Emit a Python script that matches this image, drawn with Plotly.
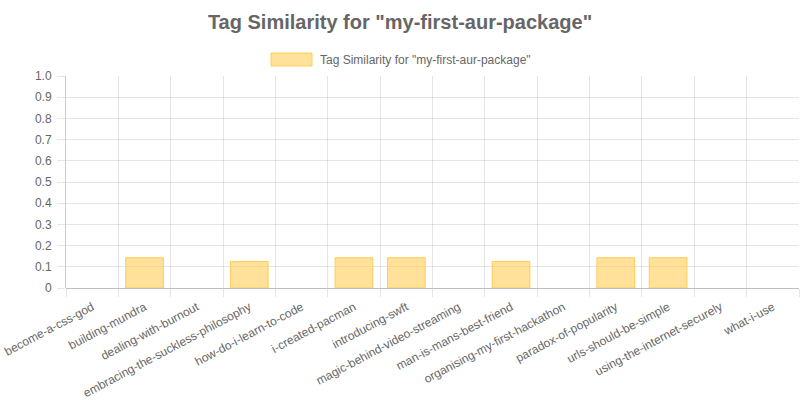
import plotly.graph_objects as go

categories = [
    "become-a-css-god", "building-mundra", "dealing-with-burnout",
    "embracing-the-suckless-philosophy", "how-do-i-learn-to-code",
    "i-created-pacman", "introducing-swft", "magic-behind-video-streaming",
    "man-is-mans-best-friend", "organising-my-first-hackathon",
    "paradox-of-popularity", "urls-should-be-simple",
    "using-the-internet-securely", "what-i-use",
]
similarity = [0, 0.1429, 0, 0.125, 0, 0.1429, 0.1429, 0, 0.125, 0, 0.1429, 0.1429, 0, 0]
y_ticks = [0, 0.1, 0.2, 0.3, 0.4, 0.5, 0.6, 0.7, 0.8, 0.9, 1.0]
y_tick_text = ["0", "0.1", "0.2", "0.3", "0.4", "0.5", "0.6", "0.7", "0.8", "0.9", "1.0"]
series_name = 'Tag Similarity for "my-first-aur-package"'

FONT = "Liberation Sans, Arial, Helvetica, sans-serif"
GREY = "#666666"

border_widths = [1 if v > 0 else 0 for v in similarity]

fig = go.Figure()
fig.add_trace(go.Bar(
    x=categories, y=similarity, name=series_name,
    marker=dict(color="rgba(255,205,86,0.6)",
                line=dict(color="rgb(255,205,86)", width=border_widths)),
    width=0.72, showlegend=False,
))

fig.update_layout(
    width=800, height=400,
    margin=dict(l=66, r=1, t=76, b=112, autoexpand=False),
    paper_bgcolor="white", plot_bgcolor="white",
    font=dict(family=FONT, size=12, color=GREY),
    title=dict(text="<b>" + series_name + "</b>", x=0.5, xanchor="center",
               y=1 - 22 / 400, yanchor="middle",
               font=dict(family=FONT, size=20, color=GREY)),
    bargap=0.28,
    xaxis=dict(
        type="category", tickson="boundaries", showgrid=True,
        gridcolor="rgba(0,0,0,0.1)", gridwidth=1,
        ticks="outside", ticklen=8, tickcolor="rgba(0,0,0,0.1)",
        tickangle=-28, tickfont=dict(family=FONT, size=12, color=GREY),
        showline=False, range=[-0.5, len(categories) - 0.5],
        ticklabelstandoff=9, automargin=False,
    ),
    yaxis=dict(
        range=[0, 1], tickvals=y_ticks, ticktext=y_tick_text,
        showgrid=True, gridcolor="rgba(0,0,0,0.1)", gridwidth=1,
        ticks="outside", ticklen=8, tickcolor="rgba(0,0,0,0.1)",
        zeroline=True, zerolinecolor="rgba(0,0,0,0.25)", zerolinewidth=1,
        showline=True, linecolor="rgba(0,0,0,0.2)", linewidth=1,
        tickfont=dict(family=FONT, size=12, color=GREY),
        ticklabelstandoff=3, automargin=False,
    ),
    shapes=[dict(
        type="rect", xref="paper", yref="paper",
        x0=(271 - 66) / 733, x1=(312 - 66) / 733,
        y0=(288 - 66) / 212, y1=(288 - 53) / 212,
        fillcolor="rgba(255,205,86,0.6)",
        line=dict(color="rgb(255,205,86)", width=1),
    )],
    annotations=[dict(
        text=series_name, xref="paper", yref="paper",
        x=(318 - 66) / 733, y=(288 - 60) / 212,
        xanchor="left", yanchor="middle", showarrow=False,
        font=dict(family=FONT, size=12, color=GREY),
    )],
)

fig.write_html("out.html")
